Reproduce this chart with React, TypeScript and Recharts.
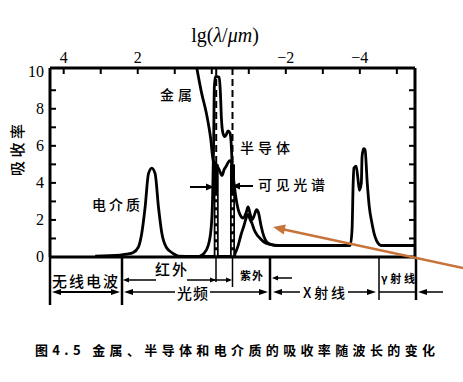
import React from 'react';
import { LineChart, Line, XAxis, YAxis, ReferenceLine } from 'recharts';

// ---- data (x = lg(λ/μm), y = absorptance) ----
const dielectricLg = [3.15, 2.48, 2.3, 2.13, 1.98, 1.89, 1.8, 1.71, 1.62, 1.53, 1.44, 1.35, 1.22, 1.05, 0.9, 0.5, 0.0, -0.55, -0.63, -0.71, -0.79, -0.87, -0.93, -0.98, -1.04, -1.09, -1.14, -1.22, -1.31, -1.41, -1.58, -1.79, -3.74, -3.79, -3.82, -3.84, -3.9, -3.95, -3.99, -4.04, -4.06, -4.1, -4.14, -4.2, -4.25, -4.33, -4.41, -4.49, -4.57, -5.49];
const dielectricA = [0.05, 0.1, 0.15, 0.23, 0.55, 1.3, 2.7, 4.5, 4.8, 4.5, 2.7, 1.3, 0.5, 0.2, 0.05, 0.03, 0.03, 0.03, 0.2, 0.6, 1.2, 1.7, 2.1, 2.3, 2.0, 1.8, 1.5, 1.2, 1.0, 0.8, 0.68, 0.62, 0.62, 1.5, 4.0, 4.8, 4.9, 4.2, 3.6, 4.0, 5.4, 5.85, 5.8, 4.0, 2.8, 1.8, 1.1, 0.75, 0.62, 0.62];

const semiLg = [0.32, 0.21, 0.1, 0.02, -0.02, -0.05, -0.07, -0.1, -0.2, -0.23, -0.26, -0.3, -0.35, -0.39, -0.44, -0.49, -0.54, -0.56, -0.59, -0.63];
const semiA = [0.05, 0.2, 0.6, 1.5, 3.0, 6.0, 9.2, 9.75, 9.7, 9.0, 7.5, 6.7, 6.5, 6.6, 6.8, 6.7, 5.5, 3.0, 0.5, 0.05];

const metalLg = [0.44, 0.28, 0.14, 0.03, -0.04, -0.12, -0.2, -0.28, -0.33, -0.39, -0.44, -0.49, -0.55, -0.6, -0.66, -0.71, -0.76, -0.85, -0.93, -0.98, -1.04, -1.09, -1.14, -1.21, -1.26, -1.33, -1.41, -1.49, -1.63, -1.79];
const metalA = [10.6, 8.9, 7.7, 6.4, 5.2, 5.0, 4.7, 4.4, 4.7, 4.9, 5.1, 5.2, 5.0, 4.0, 3.1, 2.6, 2.3, 2.1, 2.4, 2.7, 2.3, 2.0, 2.2, 2.55, 2.4, 1.7, 1.1, 0.8, 0.66, 0.62];

const xTicks = [4, 3, 2, 1, 0, -1, -2, -3, -4, -5];
const xTickLabels = [4, 2, -2, -4];
const yTicks = [0, 1, 2, 3, 4, 5, 6, 7, 8, 9, 10];
const yTickLabels = [0, 2, 4, 6, 8, 10];
const visibleEdges = [-0.12, -0.56];

const X_MIN = -5.49;
const X_MAX = 4.37;
const Y_MAX = 10.2;

const toPts = (xs: number[], ys: number[]) => xs.map((x, i) => ({ x, y: ys[i] })).sort((a, b) => b.x - a.x);
const dielectric = toPts(dielectricLg, dielectricA);
const semi = toPts(semiLg, semiA);
const metal = toPts(metalLg, metalA);

// ---- layout ----
const W = 463, H = 382;
const PL = 50, PR = 415, PT = 68, PB = 257;
const SERIF = '"Liberation Serif", "DejaVu Serif", serif';
const CJK = '"Noto Sans CJK SC", sans-serif';

const TopTick = (props: any) => {
  const { x, payload } = props;
  const v = payload.value;
  return (
    <g>
      <line x1={x} x2={x} y1={PT} y2={PT + 6} stroke="#000" strokeWidth={2} />
      {xTickLabels.includes(v) && (
        <text x={x} y={PT - 5} textAnchor="middle" fontSize={16} fontFamily={SERIF} fill="#000">
          {v < 0 ? `\u2212${-v}` : `${v}`}
        </text>
      )}
    </g>
  );
};

const LeftTick = (props: any) => {
  const { y, payload } = props;
  const v = payload.value;
  return (
    <g>
      {v > 0 && v < 10 && (
        <>
          <line x1={PL} x2={PL + 6} y1={y} y2={y} stroke="#000" strokeWidth={2} />
          <line x1={PR} x2={PR - 6} y1={y} y2={y} stroke="#000" strokeWidth={2} />
        </>
      )}
      {yTickLabels.includes(v) && (
        <text x={44} y={y + 5} textAnchor="end" fontSize={16} fontFamily={SERIF} fill="#000">
          {v}
        </text>
      )}
    </g>
  );
};

const Head = ({ x, y, dir, len = 7, hw = 3 }: { x: number; y: number; dir: number; len?: number; hw?: number }) => (
  <polygon points={`${x},${y} ${x - dir * len},${y - hw} ${x - dir * len},${y + hw}`} fill="#000" />
);

const HL = ({ x1, x2, y, w = 1.5 }: { x1: number; x2: number; y: number; w?: number }) => (
  <line x1={x1} x2={x2} y1={y} y2={y} stroke="#000" strokeWidth={w} />
);
const VL = ({ x, y1, y2, w = 2.5 }: { x: number; y1: number; y2: number; w?: number }) => (
  <line x1={x} x2={x} y1={y1} y2={y2} stroke="#000" strokeWidth={w} />
);

const Overlay = () => (
  <svg width={W} height={H} style={{ position: 'absolute', left: 0, top: 0, pointerEvents: 'none' }}>
    {/* axis title */}
    <text x={225} y={42} textAnchor="middle" fontSize={20} fontFamily={SERIF} fill="#000">
      lg(<tspan fontStyle="italic">λ</tspan>/<tspan fontStyle="italic">μm</tspan>)
    </text>
    <text x={18} y={155} textAnchor="middle" fontSize={15} fontWeight={500} fontFamily={CJK} transform="rotate(-90 18 150)" textLength={52} lengthAdjust="spacing" fill="#000">吸收率</text>

    {/* curve labels */}
    <text x={160} y={100} fontSize={14} fontWeight={500} fontFamily={CJK} textLength={32} lengthAdjust="spacing" fill="#000">金属</text>
    <text x={240} y={153} fontSize={14} fontWeight={500} fontFamily={CJK} textLength={50} lengthAdjust="spacing" fill="#000">半导体</text>
    <text x={258} y={190} fontSize={14} fontWeight={500} fontFamily={CJK} textLength={67} lengthAdjust="spacing" fill="#000">可见光谱</text>
    <text x={92} y={210} fontSize={14} fontWeight={500} fontFamily={CJK} textLength={48} lengthAdjust="spacing" fill="#000">电介质</text>

    {/* visible-range arrows */}
    <HL x1={190} x2={208} y={187} w={2} />
    <Head x={214} y={187} dir={1} len={8} hw={3.5} />
    <HL x1={238} x2={253} y={186} w={2} />
    <Head x={232} y={186} dir={-1} len={8} hw={3.5} />

    {/* band annotations */}
    <VL x={50} y1={257} y2={305} />
    <VL x={122} y1={257} y2={305} />
    <VL x={216} y1={257} y2={282} w={1.5} />
    <VL x={232.5} y1={257} y2={287} w={1.5} />
    <VL x={270} y1={257} y2={300} />
    <VL x={379} y1={257} y2={300} w={1.5} />
    <VL x={416} y1={257} y2={300} />

    <text x={52} y={287} fontSize={15} fontWeight={500} fontFamily={CJK} textLength={66} lengthAdjust="spacing" fill="#000">无线电波</text>
    <HL x1={126} x2={156} y={280} />
    <Head x={123} y={280} dir={-1} len={6} hw={2.5} />
    <text x={155} y={275} fontSize={15} fontWeight={500} fontFamily={CJK} textLength={32} lengthAdjust="spacing" fill="#000">红外</text>
    <HL x1={187} x2={230} y={280} />
    <Head x={216} y={280} dir={1} len={6} hw={2.5} />
    <Head x={232} y={280} dir={1} len={6} hw={2.5} />
    <text x={240} y={280} fontSize={11} fontWeight="bold" fontFamily={CJK} textLength={23} lengthAdjust="spacing" fill="#000">紫外</text>
    <HL x1={275} x2={292} y={278} />
    <Head x={272} y={278} dir={-1} len={6} hw={2.5} />
    <text x={381} y={283} fontSize={11} fontWeight="bold" fontFamily={CJK} textLength={34} lengthAdjust="spacing" fill="#000">γ射线</text>

    <HL x1={56} x2={116} y={292} w={2} />
    <Head x={52} y={292} dir={-1} len={9} hw={3} />
    <Head x={120} y={292} dir={1} len={9} hw={3} />
    <HL x1={128} x2={175} y={292} w={1.5} />
    <Head x={124} y={292} dir={-1} len={9} hw={3} />
    <text x={177} y={299} fontSize={15} fontWeight={500} fontFamily={CJK} textLength={31} lengthAdjust="spacing" fill="#000">光频</text>
    <HL x1={210} x2={262} y={292} w={1.5} />
    <Head x={268} y={292} dir={1} len={9} hw={3} />
    <HL x1={278} x2={300} y={292} w={1.5} />
    <Head x={273} y={292} dir={-1} len={9} hw={3} />
    <text x={303} y={298} fontSize={14} fontWeight={500} fontFamily={CJK} textLength={42} lengthAdjust="spacing" fill="#000">X射线</text>
    <HL x1={348} x2={370} y={292} w={1.5} />
    <Head x={376} y={292} dir={1} len={9} hw={3} />
    <HL x1={379} x2={416} y={292} w={1.5} />
    <HL x1={424} x2={443} y={292} w={1.5} />
    <Head x={418} y={292} dir={-1} len={9} hw={3} />

    {/* orange pointer */}
    <line x1={463} y1={268} x2={284} y2={229.5} stroke="#c8733a" strokeWidth={2.5} />
    <polygon points="273,227 285.8,224.6 283.7,234.4" fill="#c8733a" />

    {/* caption */}
    <text x={35} y={355} fontSize={13} fontWeight="bold" fontFamily={CJK} textLength={400} lengthAdjust="spacing" fill="#000">
      图4.5 金属、半导体和电介质的吸收率随波长的变化
    </text>
  </svg>
);

export default function App() {
  return (
    <div style={{ position: 'absolute', left: 0, top: 0, width: W, height: H, background: '#fff' }}>
      <LineChart width={W} height={H} margin={{ top: PT - 30, right: W - PR, bottom: H - PB, left: 0 }}>
        <XAxis
          dataKey="x"
          type="number"
          orientation="top"
          height={30}
          domain={[X_MIN, X_MAX]}
          reversed
          allowDataOverflow
          ticks={xTicks}
          interval={0}
          tickLine={false}
          axisLine={{ stroke: '#000', strokeWidth: 3 }}
          tick={(p: any) => <TopTick {...p} />}
        />
        <YAxis
          type="number"
          width={PL}
          domain={[0, Y_MAX]}
          allowDataOverflow
          ticks={yTicks}
          interval={0}
          tickLine={false}
          axisLine={{ stroke: '#000', strokeWidth: 3 }}
          tick={(p: any) => <LeftTick {...p} />}
        />
        <ReferenceLine y={0} stroke="#000" strokeWidth={3} />
        <ReferenceLine x={X_MIN} stroke="#000" strokeWidth={3} />
        <ReferenceLine x={visibleEdges[1]} stroke="#000" strokeWidth={2} strokeDasharray="7 4" />
        <ReferenceLine x={visibleEdges[0]} stroke="#000" strokeWidth={2} strokeDasharray="7 4" />
        <Line data={dielectric} dataKey="y" type="monotone" stroke="#000" strokeWidth={2.8} dot={false} isAnimationActive={false} />
        <Line data={metal} dataKey="y" type="monotone" stroke="#000" strokeWidth={2.8} dot={false} isAnimationActive={false} />
        <Line data={semi} dataKey="y" type="monotone" stroke="#000" strokeWidth={2.8} dot={false} isAnimationActive={false} />
        {visibleEdges.map((e) => (
          <ReferenceLine key={`b${e}`} segment={[{ x: e, y: 0 }, { x: e, y: 5 }]} stroke="#000" strokeWidth={5} />
        ))}
        {visibleEdges.map((e) => (
          <ReferenceLine key={`w${e}`} segment={[{ x: e, y: 0.1 }, { x: e, y: 3.3 }]} stroke="#fff" strokeWidth={1.5} strokeDasharray="5 3" />
        ))}
      </LineChart>
      <Overlay />
    </div>
  );
}
